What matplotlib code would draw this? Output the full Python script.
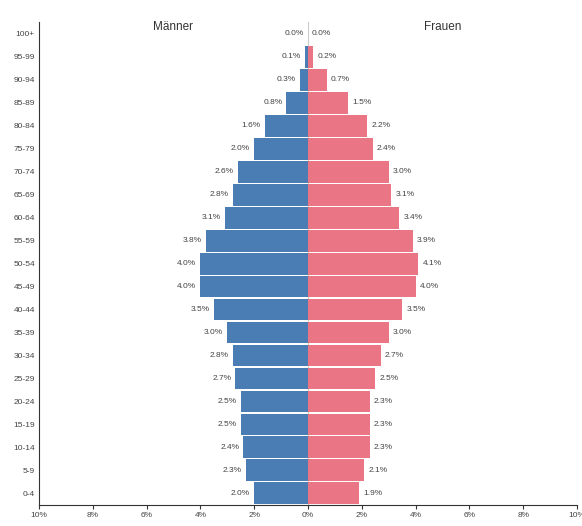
import matplotlib.pyplot as plt
import numpy as np

plt.rcParams['font.family'] = ['Liberation Sans', 'DejaVu Sans']

# Age groups from youngest to oldest
age_groups = ['0-4', '5-9', '10-14', '15-19', '20-24', '25-29', '30-34', '35-39',
              '40-44', '45-49', '50-54', '55-59', '60-64', '65-69', '70-74',
              '75-79', '80-84', '85-89', '90-94', '95-99', '100+']

# Share of total population in percent
men = [2.0, 2.3, 2.4, 2.5, 2.5, 2.7, 2.8, 3.0, 3.5, 4.0, 4.0, 3.8, 3.1, 2.8, 2.6,
       2.0, 1.6, 0.8, 0.3, 0.1, 0.0]
women = [1.9, 2.1, 2.3, 2.3, 2.3, 2.5, 2.7, 3.0, 3.5, 4.0, 4.1, 3.9, 3.4, 3.1, 3.0,
         2.4, 2.2, 1.5, 0.7, 0.2, 0.0]

x_ticks = [-10, -8, -6, -4, -2, 0, 2, 4, 6, 8, 10]

blue = '#4a7db4'
pink = '#ea7585'
text_col = '#444444'

fig = plt.figure(figsize=(5.82, 5.26), dpi=100)
ax = fig.add_axes([0.067, 0.04, 0.9244, 0.918])

y = np.arange(len(age_groups))
m = np.array(men)
w = np.array(women)

ax.axvline(0, color='#cccccc', lw=0.8, zorder=0)
ax.barh(y, -m, height=0.955, color=blue, zorder=2)
ax.barh(y, w, height=0.955, color=pink, zorder=2)

for yi, v in zip(y, m):
    ax.text(-v - 0.15, yi, f'{v:.1f}%', ha='right', va='center', fontsize=6, color=text_col)
for yi, v in zip(y, w):
    ax.text(v + 0.15, yi, f'{v:.1f}%', ha='left', va='center', fontsize=6, color=text_col)

ax.text(-5, 20.3, 'Männer', ha='center', va='center', fontsize=8.5, color='#333333')
ax.text(5, 20.3, 'Frauen', ha='center', va='center', fontsize=8.5, color='#333333')

ax.set_xlim(-10, 10)
ax.set_ylim(-0.5, 20.5)
ax.set_yticks(y)
ax.set_yticklabels(age_groups)
ax.set_xticks(x_ticks)
ax.set_xticklabels([f'{abs(t)}%' for t in x_ticks])
ax.tick_params(axis='y', length=0, pad=3, labelsize=6, labelcolor=text_col)
ax.tick_params(axis='x', length=3, width=0.8, pad=2, labelsize=6, labelcolor=text_col, color='#333333')

for s in ['top', 'right']:
    ax.spines[s].set_visible(False)
for s in ['left', 'bottom']:
    ax.spines[s].set_color('#333333')
    ax.spines[s].set_linewidth(0.8)

fig.savefig('out.png', dpi=100)
